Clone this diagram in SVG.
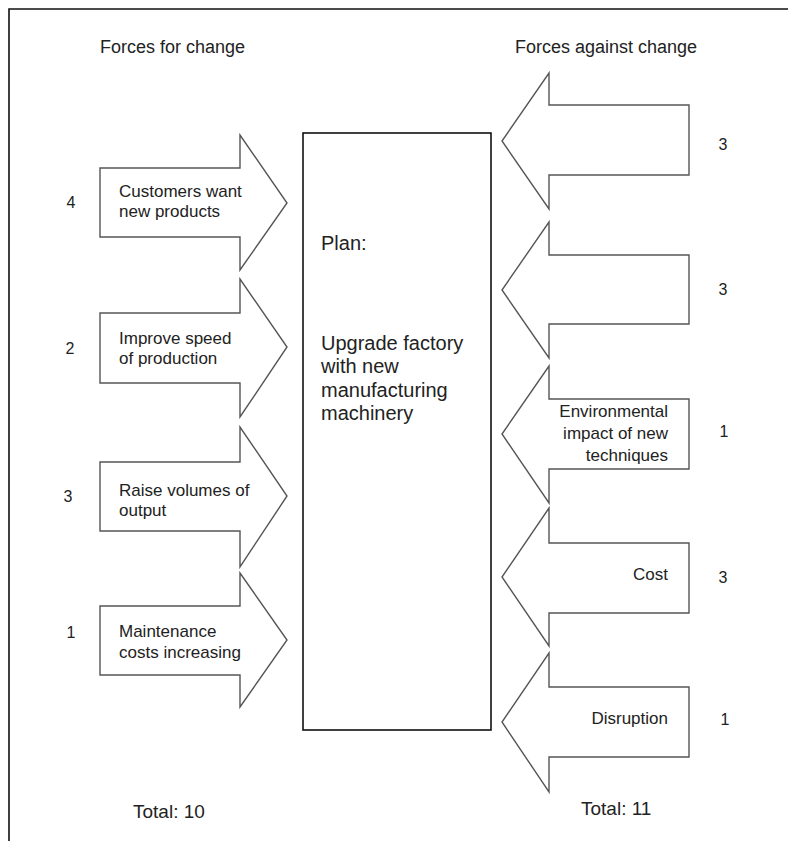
<svg xmlns="http://www.w3.org/2000/svg" width="788" height="841" viewBox="0 0 788 841">
<style>
.frame{fill:none;stroke:#111;stroke-width:1.6}
.plan{fill:#fff;stroke:#111;stroke-width:1.6}
.arrow{fill:#fff;stroke:#555;stroke-width:1.4;stroke-linejoin:miter}
text{font-family:"Liberation Sans",Arial,sans-serif;fill:#222}
.h{font-size:18px}
.t{font-size:17px}
.c{font-size:20px}
.n{font-size:16px;text-anchor:middle}
.r{text-anchor:end}
.tot{font-size:19px}
</style>
<rect width="788" height="841" fill="#fff"/>
<path class="frame" d="M9,841 V9 H788"/>
<text class="h" x="100" y="53">Forces for change</text>
<text class="h" x="515" y="53">Forces against change</text>

<g id="plan">
<rect class="plan" x="303" y="133" width="188" height="597"/>
<text class="c" x="321" y="250">Plan:</text>
<text class="c" x="321" y="350">Upgrade factory</text>
<text class="c" x="321" y="373">with new</text>
<text class="c" x="321" y="397">manufacturing</text>
<text class="c" x="321" y="420">machinery</text>
</g>

<g id="for1">
<path class="arrow" d="M100,168 H240 V135 L287,203 L240,270 V237 H100 Z"/>
<text class="t" x="119" y="197">Customers want</text>
<text class="t" x="119" y="217">new products</text>
<text class="n" x="71" y="208">4</text>
</g>
<g id="for2">
<path class="arrow" d="M100,313 H240 V279 L287,347 L240,417 V383 H100 Z"/>
<text class="t" x="119" y="344">Improve speed</text>
<text class="t" x="119" y="364">of production</text>
<text class="n" x="70" y="354">2</text>
</g>
<g id="for3">
<path class="arrow" d="M100,462 H240 V427 L287,496 L240,567 V531 H100 Z"/>
<text class="t" x="119" y="496">Raise volumes of</text>
<text class="t" x="119" y="516">output</text>
<text class="n" x="68" y="502">3</text>
</g>
<g id="for4">
<path class="arrow" d="M100,606 H240 V573 L287,640 L240,707 V675 H100 Z"/>
<text class="t" x="119" y="637">Maintenance</text>
<text class="t" x="119" y="658">costs increasing</text>
<text class="n" x="71" y="638">1</text>
</g>

<g id="against1">
<path class="arrow" d="M689,105 H549 V73 L502,141 L549,209 V175 H689 Z"/>
<text class="n" x="723" y="150">3</text>
</g>
<g id="against2">
<path class="arrow" d="M689,255 H549 V222 L502,290 L549,358 V324 H689 Z"/>
<text class="n" x="723" y="295">3</text>
</g>
<g id="against3">
<path class="arrow" d="M689,399 H549 V366 L502,434 L549,503 V469 H689 Z"/>
<text class="t r" x="668" y="417">Environmental</text>
<text class="t r" x="668" y="439">impact of new</text>
<text class="t r" x="668" y="461">techniques</text>
<text class="n" x="724" y="437">1</text>
</g>
<g id="against4">
<path class="arrow" d="M689,543 H549 V508 L502,577 L549,646 V613 H689 Z"/>
<text class="t r" x="668" y="580">Cost</text>
<text class="n" x="723" y="583">3</text>
</g>
<g id="against5">
<path class="arrow" d="M689,687 H549 V653 L502,722 L549,792 V757 H689 Z"/>
<text class="t r" x="668" y="724">Disruption</text>
<text class="n" x="725" y="725">1</text>
</g>

<text class="tot" x="133" y="818">Total: 10</text>
<text class="tot" x="581" y="815">Total: 11</text>
</svg>
